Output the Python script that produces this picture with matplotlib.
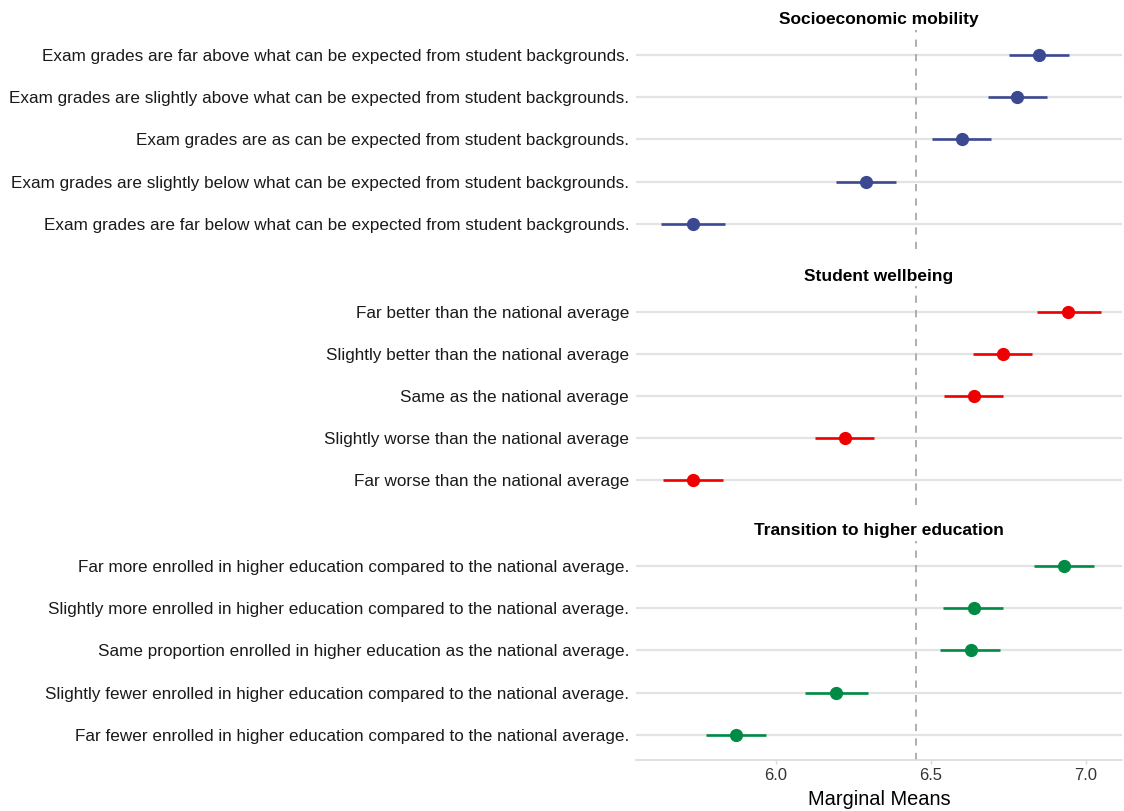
import numpy as np
import matplotlib
matplotlib.use("Agg")
import matplotlib.pyplot as plt

plt.rcParams['font.family'] = ['Liberation Sans', 'DejaVu Sans']

titles = ["Socioeconomic mobility", "Student wellbeing", "Transition to higher education"]
colors = ["#3B4992", "#EE0000", "#008B45"]

labels_socio = [
    "Exam grades are far above what can be expected from student backgrounds.",
    "Exam grades are slightly above what can be expected from student backgrounds.",
    "Exam grades are as can be expected from student backgrounds.",
    "Exam grades are slightly below what can be expected from student backgrounds.",
    "Exam grades are far below what can be expected from student backgrounds.",
]
labels_well = [
    "Far better than the national average",
    "Slightly better than the national average",
    "Same as the national average",
    "Slightly worse than the national average",
    "Far worse than the national average",
]
labels_trans = [
    "Far more enrolled in higher education compared to the national average.",
    "Slightly more enrolled in higher education compared to the national average.",
    "Same proportion enrolled in higher education as the national average.",
    "Slightly fewer enrolled in higher education compared to the national average.",
    "Far fewer enrolled in higher education compared to the national average.",
]

est_socio = [6.849, 6.779, 6.599, 6.292, 5.734]
lo_socio = [6.753, 6.683, 6.503, 6.196, 5.631]
hi_socio = [6.945, 6.875, 6.695, 6.388, 5.837]

est_well = [6.942, 6.731, 6.638, 6.224, 5.734]
lo_well = [6.843, 6.635, 6.542, 6.128, 5.638]
hi_well = [7.048, 6.827, 6.734, 6.317, 5.830]

est_trans = [6.929, 6.638, 6.628, 6.196, 5.872]
lo_trans = [6.833, 6.538, 6.529, 6.096, 5.776]
hi_trans = [7.025, 6.734, 6.724, 6.298, 5.968]

ref_line = 6.452

panels = [
    (labels_socio, est_socio, lo_socio, hi_socio),
    (labels_well, est_well, lo_well, hi_well),
    (labels_trans, est_trans, lo_trans, hi_trans),
]

fig = plt.figure(figsize=(11.24, 8.11), dpi=100)
tops = [0.963, 0.647, 0.333]
h = 0.270
left, width = 0.566, 0.432

for i, (labs, est, lo, hi) in enumerate(panels):
    ax = fig.add_axes([left, tops[i] - h, width, h])
    y = np.arange(len(labs))
    for yy in y:
        ax.axhline(yy, color="#E3E3E3", lw=1.6, zorder=0)
    ax.axvline(ref_line, color="#A8A8A8", lw=1.3, ls=(0, (4, 4)), zorder=1)
    ax.hlines(y, lo, hi, color=colors[i], lw=1.9, zorder=2)
    ax.plot(est, y, "o", color=colors[i], ms=8.5, zorder=3)
    ax.set_xlim(5.551, 7.115)
    ax.set_ylim(4.6, -0.6)
    ax.set_yticks(y)
    ax.set_yticklabels(labs, fontsize=12.3, color="#1A1A1A")
    ax.set_title(titles[i], fontsize=12.5, fontweight="bold", pad=4)
    ax.tick_params(axis="y", length=0, pad=5)
    for s in ax.spines.values():
        s.set_visible(False)
    ax.set_xticks([6.0, 6.5, 7.0])
    if i < 2:
        ax.tick_params(axis="x", length=0)
        ax.set_xticklabels([])
    else:
        ax.set_xticklabels(["6.0", "6.5", "7.0"], fontsize=12, color="#333333")
        ax.tick_params(axis="x", length=3, color="#D9D9D9", width=1, pad=3)
        ax.spines["bottom"].set_visible(True)
        ax.spines["bottom"].set_color("#D9D9D9")
        ax.spines["bottom"].set_linewidth(1.2)
        ax.set_xlabel("Marginal Means", fontsize=14.4, labelpad=5)

fig.savefig("out.png", dpi=100)
